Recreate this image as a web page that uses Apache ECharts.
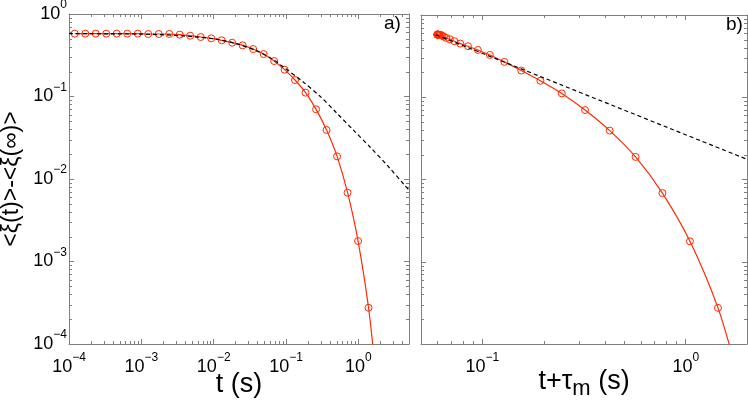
<!DOCTYPE html>
<html>
<head>
<meta charset="utf-8">
<title>relaxation</title>
<script src="https://cdn.jsdelivr.net/npm/echarts@6.0.0/dist/echarts.min.js"></script>
<style>
    html, body { margin: 0; padding: 0; background: #fff; }
    #chart { width: 748px; height: 400px; }
</style>
</head>
<body>
<div id="chart"></div>
<script>
// red curve, marker times (s) and values read off panel a)
var tData = [1.20e-4, 1.68e-4, 2.34e-4, 3.27e-4, 4.57e-4, 6.38e-4, 8.91e-4, 1.245e-3, 1.74e-3, 2.43e-3,
    3.39e-3, 4.73e-3, 6.61e-3, 9.23e-3, 0.0129, 0.0180, 0.0251, 0.0351, 0.0490, 0.0684,
    0.0955, 0.133, 0.186, 0.260, 0.363, 0.507, 0.708, 0.989, 1.38];
var xiData = [0.578, 0.578, 0.578, 0.578, 0.578, 0.578, 0.578, 0.572, 0.572, 0.572,
    0.562, 0.546, 0.526, 0.507, 0.480, 0.449, 0.417, 0.376, 0.327, 0.269,
    0.2115, 0.1585, 0.1113, 0.0699, 0.0393, 0.01882, 0.00683, 0.00177, 0.000275];
// where the red line leaves the frame (no marker)
var tTail = 1.7, xiTail = 5.1e-5;
// shift of panel b)
var TAU_M = 0.06;

// dashed curve of panel a)
var fitAT = [1e-4, 1e-3, 3e-3, 0.01, 0.02, 0.04, 0.0667, 0.0918, 0.174, 0.297, 0.506, 0.861, 1.468, 2.51, 4.26, 5.1];
var fitAY = [0.578, 0.570, 0.55, 0.50, 0.44, 0.355, 0.279, 0.228, 0.149, 0.100, 0.0625, 0.0388, 0.0241, 0.0146, 0.0086, 0.0072];
// dashed power law of panel b)
var fitBT = [0.0593, 0.24, 2];
var fitBY = [0.574, 0.1439, 0.0176];

var yRange = [1e-4, 1];
var xRangeA = [1e-4, 5];
var xRangeB = [0.05, 2];

var GRAY = '#808080';
var RED = '#ff2a00';
var FONT = 'Liberation Sans, Arial, sans-serif';

function zip(a, b) {
    return a.map(function (v, i) { return [v, b[i]]; });
}

function powLabel(v) {
    var e = Math.log10(v);
    var r = Math.round(e);
    if (Math.abs(e - r) > 1e-6) return '';
    return '{b|10}{s|' + (r < 0 ? '\u2212' + (-r) : r) + '}';
}

var richPow = {
    b: { fontSize: 18, lineHeight: 30, verticalAlign: 'middle', fontFamily: FONT, color: '#000' },
    s: { fontSize: 12, lineHeight: 12, verticalAlign: 'top', fontFamily: FONT, color: '#000' }
};

function axis(grid, range, pos, labels, name, nameGap, nameSize, nameRich) {
    var ax = {
        type: 'log', logBase: 10, gridIndex: grid, position: pos,
        min: range[0], max: range[1],
        axisLine: { show: true, onZero: false, lineStyle: { color: GRAY, width: 1 } },
        axisTick: { show: true, inside: true, length: 5, lineStyle: { color: GRAY } },
        axisLabel: { show: labels, formatter: powLabel, margin: pos === 'bottom' ? 8 : 2, rich: richPow },
        splitLine: { show: false }
    };
    if (name) {
        ax.name = name;
        ax.nameLocation = 'middle';
        ax.nameGap = nameGap;
        ax.nameMoveOverlap = false;
        ax.nameTextStyle = { fontSize: nameSize, fontFamily: FONT, color: '#000' };
        if (nameRich) ax.nameTextStyle.rich = nameRich;
    }
    return ax;
}

function minorValues(range) {
    var out = [];
    var lo = Math.floor(Math.log10(range[0])), hi = Math.ceil(Math.log10(range[1]));
    for (var n = lo; n < hi; n++) {
        for (var k = 2; k <= 9; k++) {
            var v = k * Math.pow(10, n);
            if (v > range[0] * 1.0001 && v < range[1] * 0.9999) out.push(v);
        }
    }
    return out;
}

// small log ticks on all four sides of a panel
function minorSeries(grid, xr, yr) {
    var data = [];
    minorValues(xr).forEach(function (v) { data.push([v, yr[0], 0]); });
    minorValues(yr).forEach(function (v) { data.push([xr[0], v, 1]); });
    return {
        type: 'custom', xAxisIndex: grid * 2, yAxisIndex: grid * 2, silent: true,
        data: data, encode: { x: 0, y: 1 }, z: 1,
        renderItem: function (params, api) {
            var L = 3, st = { stroke: GRAY, lineWidth: 1 };
            if (api.value(2) === 0) {
                var b = api.coord([api.value(0), yr[0]]), t = api.coord([api.value(0), yr[1]]);
                var x = Math.round(b[0]) + 0.5;
                return { type: 'group', children: [
                    { type: 'line', shape: { x1: x, y1: b[1], x2: x, y2: b[1] - L }, style: st },
                    { type: 'line', shape: { x1: x, y1: t[1], x2: x, y2: t[1] + L }, style: st }
                ] };
            }
            var l = api.coord([xr[0], api.value(1)]), r = api.coord([xr[1], api.value(1)]);
            var y = Math.round(l[1]) + 0.5;
            return { type: 'group', children: [
                { type: 'line', shape: { x1: l[0], y1: y, x2: l[0] + L, y2: y }, style: st },
                { type: 'line', shape: { x1: r[0], y1: y, x2: r[0] - L, y2: y }, style: st }
            ] };
        }
    };
}

function redSeries(grid, xs, tail) {
    var data = zip(xs, xiData);
    data.push({ value: [tail, xiTail], symbol: 'none' });
    return {
        type: 'line', xAxisIndex: grid * 2, yAxisIndex: grid * 2,
        data: data, smooth: 0.3, z: 3,
        symbol: 'circle', symbolSize: 7,
        itemStyle: { color: 'rgba(255,255,255,0)', borderColor: RED, borderWidth: 1 },
        lineStyle: { color: RED, width: 1.2 }
    };
}

function dashSeries(grid, xs, ys) {
    return {
        type: 'line', xAxisIndex: grid * 2, yAxisIndex: grid * 2,
        data: zip(xs, ys), smooth: 0.3, symbol: 'none', z: 4,
        lineStyle: { color: '#000', width: 1.2, type: [4, 3] }
    };
}

var tShifted = tData.map(function (v) { return v + TAU_M; });

var chart = echarts.init(document.getElementById('chart'));
chart.setOption({
    animation: false,
    backgroundColor: '#fff',
    title: [
        { text: 'a)', left: 384, top: 14, padding: 0,
          textStyle: { fontSize: 19, fontWeight: 'normal', fontFamily: FONT, color: '#000' } },
        { text: 'b)', left: 726, top: 15, padding: 0,
          textStyle: { fontSize: 19, fontWeight: 'normal', fontFamily: FONT, color: '#000' } }
    ],
    grid: [
        { left: 69, top: 14, width: 340, height: 330, outerBoundsMode: 'none' },
        { left: 421, top: 15, width: 326, height: 329, outerBoundsMode: 'none' }
    ],
    xAxis: [
        axis(0, xRangeA, 'bottom', true, 't (s)', 27, 27),
        axis(0, xRangeA, 'top', false),
        axis(1, xRangeB, 'bottom', true, '{a|t+\u03c4}{m|m}{a| (s)}', 20, 27, {
            a: { fontSize: 27, fontFamily: FONT, color: '#000' },
            m: { fontSize: 22, fontFamily: FONT, color: '#000', padding: [14, 0, 0, 0] }
        }),
        axis(1, xRangeB, 'top', false)
    ],
    yAxis: [
        axis(0, yRange, 'left', true, '<\u03be(t)>-<\u03be(\u221e)>', 46, 23),
        axis(0, yRange, 'right', false),
        axis(1, yRange, 'left', false),
        axis(1, yRange, 'right', false)
    ],
    series: [
        minorSeries(0, xRangeA, yRange),
        minorSeries(1, xRangeB, yRange),
        redSeries(0, tData, tTail),
        dashSeries(0, fitAT, fitAY),
        redSeries(1, tShifted, tTail + TAU_M),
        dashSeries(1, fitBT, fitBY)
    ]
});
</script>
</body>
</html>
